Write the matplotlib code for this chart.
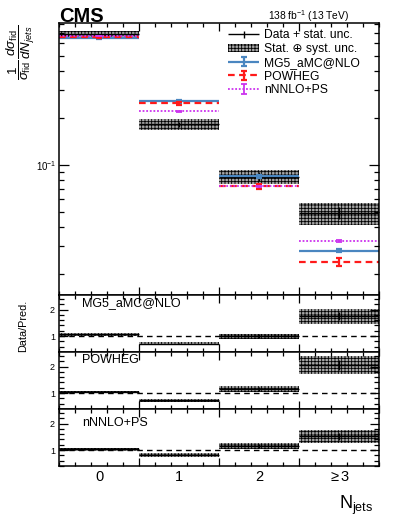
import numpy as np
import matplotlib.pyplot as plt
from matplotlib.patches import Patch
from matplotlib.legend_handler import HandlerErrorbar
from matplotlib.ticker import MultipleLocator, FixedLocator, NullFormatter

plt.rcParams['font.family'] = ['Liberation Sans', 'DejaVu Sans']
plt.rcParams['mathtext.fontset'] = 'custom'
plt.rcParams['mathtext.rm'] = 'Liberation Sans'
plt.rcParams['mathtext.it'] = 'Liberation Sans:italic'
plt.rcParams['mathtext.bf'] = 'Liberation Sans:bold'
plt.rcParams['hatch.linewidth'] = 0.6

# bins in N_jets
bin_labels = ['0', '1', '2', r'$\geq$3']
x = np.arange(4)

# measured normalised cross section
data = np.array([0.685, 0.181, 0.0838, 0.0492])
stat_rel = np.array([0.012, 0.03, 0.065, 0.09])
tot_rel = np.array([0.045, 0.08, 0.10, 0.16])

# predictions
mg5 = np.array([0.645, 0.255, 0.0840, 0.0281])
mg5_err = np.array([0.01, 0.02, 0.02, 0.02])
powheg = np.array([0.655, 0.2475, 0.0725, 0.0239])
powheg_err = np.array([0.01, 0.02, 0.03, 0.06])
nnnlo = np.array([0.670, 0.220, 0.0725, 0.0324])
nnnlo_err = np.array([0.005, 0.01, 0.01, 0.01])

preds = [
    ('MG5_aMC@NLO', mg5, mg5_err, '#4a86c0', '-', 1.6),
    ('POWHEG', powheg, powheg_err, '#ff1a1a', (0, (3, 2)), 1.6),
    ('nNNLO+PS', nnnlo, nnnlo_err, '#cc33ee', (0, (1, 1)), 1.3),
]

band_face = '0.65'
band_hatch = '+++++'

W, H = 399, 518
fig = plt.figure(figsize=(W / 100, H / 100), dpi=100)


def fx(px):
    return px / W


def fy(py):
    return 1 - py / H


L, R = 59, 379
ax = fig.add_axes([fx(L), fy(295), fx(R - L), (295 - 23) / H])
rax = [fig.add_axes([fx(L), fy(b), fx(R - L), (b - t) / H], sharex=ax)
       for t, b in [(295, 352), (352, 409), (409, 466)]]


def style(a):
    a.tick_params(which='both', direction='in', top=True, right=True)
    a.tick_params(which='major', length=6, width=0.9)
    a.tick_params(which='minor', length=3, width=0.9)
    for s in a.spines.values():
        s.set_linewidth(1.1)
    a.xaxis.set_major_locator(FixedLocator([0.5, 1.5, 2.5]))
    a.xaxis.set_minor_locator(FixedLocator(np.arange(-0.5, 3.51, 0.2)))
    a.xaxis.set_major_formatter(NullFormatter())


def draw_band(a, vals, rel):
    a.bar(x, 2 * vals * rel, bottom=vals * (1 - rel), width=1.0,
          facecolor=band_face, edgecolor='k', hatch=band_hatch, linewidth=0)


# main panel
draw_band(ax, data, tot_rel)
hl_d = ax.hlines(data, x - 0.5, x + 0.5, colors='k', linewidth=1.0)
eb_d = ax.errorbar(x, data, yerr=data * stat_rel, fmt='none', ecolor='k', elinewidth=1.0)

handles = [(hl_d, eb_d), Patch(facecolor=band_face, edgecolor='k', hatch=band_hatch, linewidth=0)]
labels = ['Data + stat. unc.', 'Stat. \u2295 syst. unc.']
hmap = {eb_d: HandlerErrorbar(xerr_size=0.28)}
for name, p, pe, c, ls, lw in preds:
    hl = ax.hlines(p, x - 0.5, x + 0.5, colors=c, linestyles=ls, linewidth=lw)
    eb = ax.errorbar(x, p, yerr=p * pe, fmt='none', ecolor=c, elinewidth=lw,
                     capsize=2, capthick=lw)
    handles.append((hl, eb))
    labels.append(name)
    hmap[eb] = HandlerErrorbar(xerr_size=0.4)

ax.set_yscale('log')
ax.set_ylim(0.0146, 0.81)
ax.set_xlim(-0.5, 3.5)
style(ax)
ax.tick_params(axis='y', which='major', length=7, labelsize=7, pad=2)
ax.tick_params(axis='y', which='minor', length=3.5)

ax.legend(handles, labels, loc='upper left', bbox_to_anchor=(fx(228), fy(29.5)),
          bbox_transform=fig.transFigure, frameon=False, fontsize=8.7,
          borderpad=0, borderaxespad=0, labelspacing=0.14, handlelength=2.6,
          handletextpad=0.4, handler_map=hmap)

# ratio panels
text_y = [0.86, 0.86, 0.75]
for a, (name, p, pe, c, ls, lw), ty in zip(rax, preds, text_y):
    r = data / p
    a.axhline(1, color='k', linestyle=(0, (4, 3)), linewidth=1.0)
    draw_band(a, r, tot_rel)
    a.hlines(r, x - 0.5, x + 0.5, colors='k', linewidth=1.0)
    a.errorbar(x, r, yerr=r * stat_rel, fmt='none', ecolor='k', elinewidth=1.0)
    a.set_ylim(0.4, 2.55)
    a.yaxis.set_major_locator(FixedLocator([1, 2]))
    a.yaxis.set_minor_locator(MultipleLocator(0.2))
    style(a)
    a.tick_params(axis='y', labelsize=6.5, pad=3)
    a.tick_params(axis='y', which='major', length=6.5)
    a.tick_params(axis='y', which='minor', length=3.5)
    a.text(fx(82 - L) / fx(R - L), ty, name, transform=a.transAxes,
           fontsize=9, va='center', ha='left')

# bin labels on the last panel
for xi, lab in zip(x, bin_labels):
    rax[-1].text(xi, -0.2, lab, transform=rax[-1].get_xaxis_transform(),
                 ha='center', va='center', fontsize=10.5)

fig.text(fx(373), fy(509), r'N$_{\rm jets}$', ha='right', va='baseline', fontsize=13)
fig.text(fx(21), fy(52), r'$\dfrac{1}{\sigma_{\rm fid}}\,\dfrac{d\sigma_{\rm fid}}{dN_{jets}}$',
         rotation=90, ha='center', va='center', fontsize=9.5)
fig.text(fx(23), fy(326), 'Data/Pred.', rotation=90, ha='center', va='center', fontsize=7.8)
fig.text(fx(59), fy(21.5), 'CMS', fontsize=14.5, fontweight='bold', ha='left', va='baseline')
fig.text(fx(349), fy(19.5), r'138 fb$^{-1}$ (13 TeV)', fontsize=7.4, ha='right', va='baseline')

fig.savefig('out.png', dpi=100)
